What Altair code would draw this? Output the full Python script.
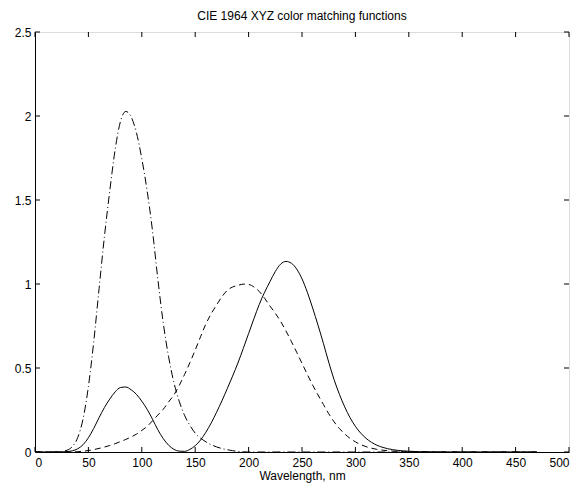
import altair as alt
import pandas as pd

# CIE 1964 10-degree colour matching functions, sampled every 5 samples (5 nm from 360 nm)
sample_index = list(range(0, 471, 5))

x_bar = [
    0.0000001222, 0.0000009193, 0.0000059586, 0.0000330982, 0.000159952,
    0.00066244, 0.0023616, 0.0072423, 0.0191097, 0.0434,
    0.084736, 0.140638, 0.204492, 0.264737, 0.314679,
    0.357719, 0.383734, 0.386726, 0.370702, 0.342957,
    0.302273, 0.254085, 0.195618, 0.132349, 0.080507,
    0.041072, 0.016172, 0.005132, 0.003816, 0.015444,
    0.037465, 0.071358, 0.117749, 0.172953, 0.236491,
    0.304213, 0.376772, 0.451584, 0.529826, 0.616053,
    0.705224, 0.793832, 0.878655, 0.951162, 1.01416,
    1.0743, 1.11852, 1.1343, 1.12399, 1.0891,
    1.03048, 0.95074, 0.856297, 0.75493, 0.647467,
    0.53511, 0.431567, 0.34369, 0.268329, 0.2043,
    0.152568, 0.11221, 0.081261, 0.05793, 0.040851,
    0.028623, 0.019941, 0.013842, 0.009577, 0.006605,
    0.004553, 0.003145, 0.002175, 0.001506, 0.001045,
    0.000727, 0.000508, 0.000356, 0.000251, 0.000178,
    0.000126, 0.00009, 0.0000646, 0.0000465, 0.0000337,
    0.0000245, 0.0000179, 0.0000131, 0.0000096, 0.0000071,
    0.0000053, 0.0000039, 0.0000029, 0.0000022, 0.0000017,
]

y_bar = [
    0.0000000134, 0.0000001007, 0.0000006511, 0.0000036389, 0.00001737,
    0.00007156, 0.0002534, 0.0007685, 0.0020044, 0.004509,
    0.008756, 0.014456, 0.021391, 0.029497, 0.038676,
    0.049602, 0.062077, 0.074704, 0.089456, 0.106256,
    0.128201, 0.152761, 0.18519, 0.21994, 0.253589,
    0.297665, 0.339133, 0.395379, 0.460777, 0.53136,
    0.606741, 0.68566, 0.761757, 0.82333, 0.875211,
    0.92381, 0.961988, 0.9822, 0.991761, 0.99911,
    0.99734, 0.98238, 0.955552, 0.915175, 0.868934,
    0.825623, 0.777405, 0.720353, 0.658341, 0.593878,
    0.527963, 0.461834, 0.398057, 0.339554, 0.283493,
    0.228254, 0.179828, 0.140211, 0.107633, 0.081187,
    0.060281, 0.044096, 0.0318, 0.022602, 0.015905,
    0.01113, 0.007749, 0.005375, 0.003718, 0.002565,
    0.001768, 0.001222, 0.000846, 0.000586, 0.000407,
    0.000284, 0.000199, 0.00014, 0.000098, 0.00007,
    0.00005, 0.000036, 0.000025, 0.000018, 0.000013,
    0.0000095, 0.000007, 0.0000051, 0.0000037, 0.0000028,
    0.0000021, 0.0000015, 0.0000011, 0.0000009, 0.0000007,
]

z_bar = [
    0.000000535, 0.0000040283, 0.0000261437, 0.000145, 0.000704776,
    0.0029278, 0.0104822, 0.032344, 0.0860109, 0.19712,
    0.389366, 0.65676, 0.972542, 1.2825, 1.55348,
    1.7985, 1.96728, 2.0273, 1.9948, 1.9007,
    1.74537, 1.5549, 1.31756, 1.0302, 0.772125,
    0.57006, 0.415254, 0.302356, 0.218502, 0.159249,
    0.112044, 0.082248, 0.060709, 0.04305, 0.030451,
    0.020584, 0.013676, 0.007918, 0.003988, 0.001091,
] + [0.0] * 55

x_ticks = [0, 50, 100, 150, 200, 250, 300, 350, 400, 450, 500]
y_ticks = [0, 0.5, 1, 1.5, 2, 2.5]

W, H = 534, 420
FONT = "Liberation Sans"

df = pd.DataFrame({"idx": sample_index, "x": x_bar, "y": y_bar, "z": z_bar})
xt = pd.DataFrame({"idx": x_ticks})
yt = pd.DataFrame({"val": y_ticks})

xs = alt.Scale(domain=[0, 500], nice=False, zero=False)
ys = alt.Scale(domain=[0, 2.5], nice=False, zero=False)

xaxis = alt.Axis(values=x_ticks, ticks=False, grid=False, domainColor="black",
                 labelColor="black", labelFont=FONT, labelFontSize=12, labelPadding=5,
                 title="Wavelength, nm", titleFont=FONT, titleFontSize=12,
                 titleFontWeight="normal", titleColor="black", titlePadding=2)
yaxis = alt.Axis(values=y_ticks, ticks=False, grid=False, domainColor="black",
                 labelColor="black", labelFont=FONT, labelFontSize=12, labelPadding=4,
                 format="~g", title=None)

X = alt.X("idx:Q", scale=xs, axis=xaxis, title="Wavelength, nm")

base = alt.Chart(df)

def curve(field, dash):
    kw = dict(color="black", strokeWidth=1, interpolate="monotone", clip=True)
    if dash:
        kw["strokeDash"] = dash
    return base.mark_line(**kw).encode(
        x=X,
        y=alt.Y(f"{field}:Q", scale=ys, axis=yaxis, title=None),
    )

lx = curve("x", None)
ly = curve("y", [6, 4])
lz = curve("z", [8, 3, 1, 3])

tick_len = 5
rule = dict(color="black", strokeWidth=1)
bottom_ticks = alt.Chart(xt).mark_rule(**rule).encode(
    x=X, y=alt.value(H), y2=alt.value(H - tick_len))
top_ticks = alt.Chart(xt).mark_rule(**rule).encode(
    x=X, y=alt.value(0), y2=alt.value(tick_len))
left_ticks = alt.Chart(yt).mark_rule(**rule).encode(
    y=alt.Y("val:Q", scale=ys, axis=yaxis, title=None), x=alt.value(0), x2=alt.value(tick_len))
right_ticks = alt.Chart(yt).mark_rule(**rule).encode(
    y=alt.Y("val:Q", scale=ys, axis=yaxis, title=None), x=alt.value(W), x2=alt.value(W - tick_len))

chart = alt.layer(lx, ly, lz, bottom_ticks, top_ticks, left_ticks, right_ticks).properties(
    width=W, height=H,
    title=alt.TitleParams("CIE 1964 XYZ color matching functions", font=FONT,
                          fontSize=12, fontWeight="normal", color="black", offset=3),
    autosize=alt.AutoSizeParams(type="none"),
    padding={"left": 27, "top": 24, "right": 6, "bottom": 33},
).configure_view(stroke="black", strokeWidth=1).configure(background="white")

chart.save("out.html", embed_options={"renderer": "svg", "actions": False})
